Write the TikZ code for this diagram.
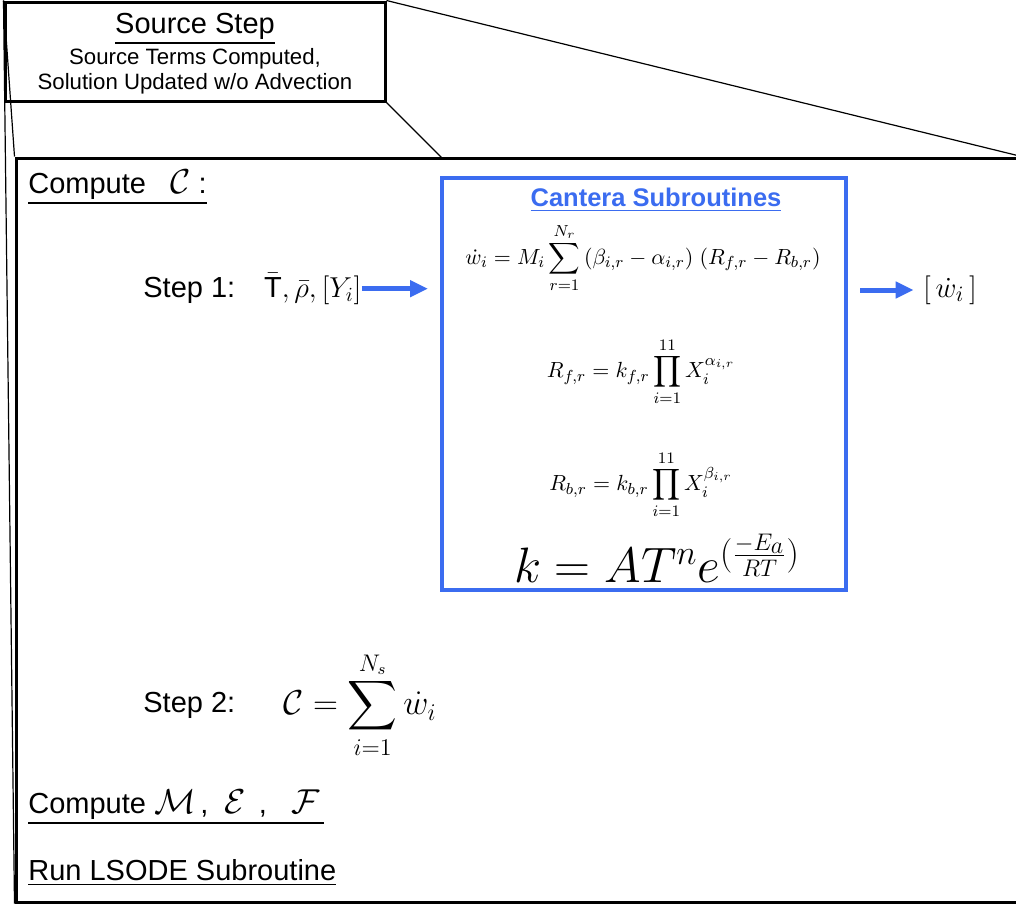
\documentclass[tikz,border=0pt]{standalone}
\usepackage{fontspec}
\setmainfont{Liberation Sans}
\usepackage{amsmath}
\usetikzlibrary{positioning, arrows.meta}
\definecolor{cazul}{RGB}{59,108,240}
\newcommand{\letra}[1]{{\fontsize{18}{20}\selectfont$\mathcal{#1}$}}

\begin{document}
\begin{tikzpicture}[x=0.5pt, y=-0.5pt, >={Triangle[length=9pt, width=8pt]},
    caja/.style={draw, line width=1.5pt, inner sep=0pt},
    fina/.style={draw, line width=0.6pt},
    txt/.style={font=\fontsize{14.5}{17}\selectfont, inner sep=0pt, anchor=base west},
    sub/.style={font=\fontsize{11.1}{12.5}\selectfont, align=center, inner sep=0pt},
    eq/.style={font=\fontsize{11.3}{13}\selectfont, inner sep=0pt},
    flecha/.style={->, cazul, line width=2.5pt}]
  \useasboundingbox (0,0) rectangle (1016,905);

  % cajas
  \node[caja, minimum width=190pt, minimum height=49.5pt] (paso) at (195,51.5) {};
  \node[caja, minimum width=502pt, minimum height=372pt] (fuente) at (518,530) {};
  \node[draw=cazul, line width=2pt, minimum width=202pt, minimum height=206pt] (cantera) at (644,384) {};
  \coordinate (pie) at (442,158);

  % lineas de zoom
  \draw[fina] (paso.north east) -- (fuente.north east);
  \draw[fina] (paso.south east) -- (pie);
  \draw[fina] (paso.north west) -- (fuente.north west);
  \draw[fina] (paso.north west) -- (fuente.south west);

  % cabecera
  \node[txt, anchor=base] (titulo) at (195,33) {\underline{Source Step}};
  \node[sub] (detalle) at (195,71) {Source Terms Computed,\\Solution Updated w/o Advection};

  % paso 1
  \node[txt] (calc) at (28,193) {\underline{Compute \ \ \letra{C} :}};
  \node[txt] (paso1) at (143,297) {Step 1:};
  \node[txt, right=14pt of paso1.base east, anchor=base west] (entrada) {$\bar{\text{T}}, \bar{\rho}, [Y_i]$};
  \node[font=\bfseries\fontsize{12.75}{15}\selectfont, text=cazul, inner sep=0pt] (sub) at (656,200) {\underline{Cantera Subroutines}};
  \node[eq] (wdot) at (643,258) {$\displaystyle \dot{w}_i = M_i \sum_{r=1}^{N_r}\, (\beta_{i,r} - \alpha_{i,r})\;(R_{f,r} - R_{b,r})$};
  \node[eq] (rf) at (641,372) {$\displaystyle R_{f,r} = k_{f,r} \prod_{i=1}^{11} X_i^{\alpha_{i,r}}$};
  \node[eq] (rb) at (641,485) {$\displaystyle R_{b,r} = k_{b,r} \prod_{i=1}^{11} X_i^{\beta_{i,r}}$};
  \node[eq, font=\fontsize{23.5}{28}\selectfont] (arr) at (657,558) {$k = AT^n e^{(\frac{-E_a}{RT})}$};
  \node[font=\fontsize{15}{17}\selectfont, inner sep=0pt] (salida) at (950,290) {$[\,\dot{w}_i\,]$};

  % flujos
  \draw[flecha, shorten >=6pt] (entrada.east) -- (entrada.east -| cantera.west);
  \draw[flecha, shorten <=6pt, shorten >=4.5pt] (cantera.east |- salida.west) -- (salida.west);

  % paso 2 y resto
  \node[txt] (paso2) at (143,712) {Step 2:};
  \node[eq, font=\fontsize{17}{20}\selectfont, anchor=west] (suma) at (283,705) {$\displaystyle \mathcal{C} = \sum_{i=1}^{N_s} \dot{w}_i$};
  \node[txt] (flujos) at (28,813) {\underline{Compute \letra{M}\,, \ \letra{E}\ \,, \ \ \letra{F}\,}};
  \node[txt] (lsode) at (28,880) {\underline{Run LSODE Subroutine}};
\end{tikzpicture}
\end{document}
